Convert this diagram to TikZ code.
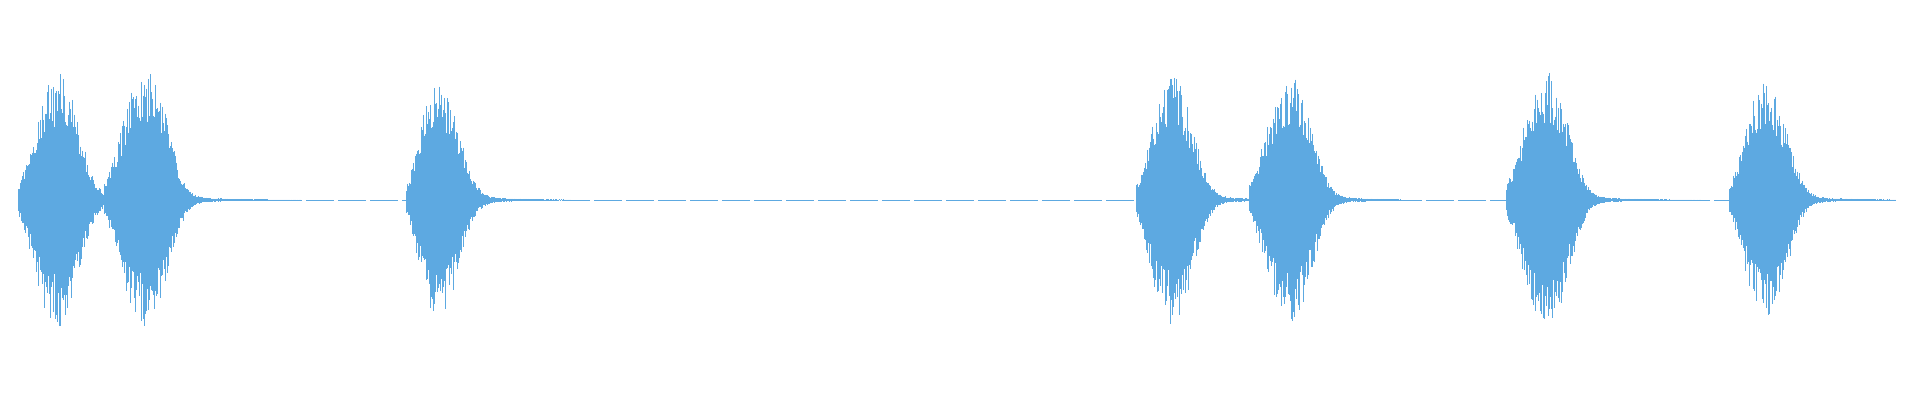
\documentclass[tikz,border=0pt]{standalone}
\usepackage{tikz}

% start, peak, end, amplitude
\newcommand{\wavepulse}[4]{%
    \foreach \x in {#1,...,#3}{%
        \pgfmathsetmacro{\amp}{(\x<#2) ? #4*exp(-(abs(\x-#2)/((#2-#1)*0.75))^2.5) : #4*exp(-(abs(\x-#2)/30)^2.5)+9*exp(-(\x-#2)/45)}
        \pgfmathsetmacro{\up}{\amp*(0.6+0.4*rnd)}
        \pgfmathsetmacro{\dn}{\amp*(0.6+0.4*rnd)}
        \draw[wave] (\x,200+\up) -- (\x,200-\dn);
    }%
}

\begin{document}
\begin{tikzpicture}[x=0.5pt,y=0.5pt]
    \definecolor{wavecol}{RGB}{93,169,225}
    \tikzset{wave/.style={draw=wavecol, line width=0.45pt}}
    \useasboundingbox (0,0) rectangle (1920,400);
    \pgfmathsetseed{42}
    % baseline
    \draw[wavecol, line width=0.25pt, dash pattern=on 14pt off 2pt] (18,200) -- (1895,200);
    % bursts
    \wavepulse{18}{55}{104}{120}
    \wavepulse{104}{144}{300}{122}
    \wavepulse{406}{435}{570}{112}
    \wavepulse{1136}{1169}{1250}{116}
    \wavepulse{1249}{1288}{1400}{116}
    \wavepulse{1506}{1545}{1700}{120}
    \wavepulse{1729}{1763}{1895}{110}
\end{tikzpicture}
\end{document}
